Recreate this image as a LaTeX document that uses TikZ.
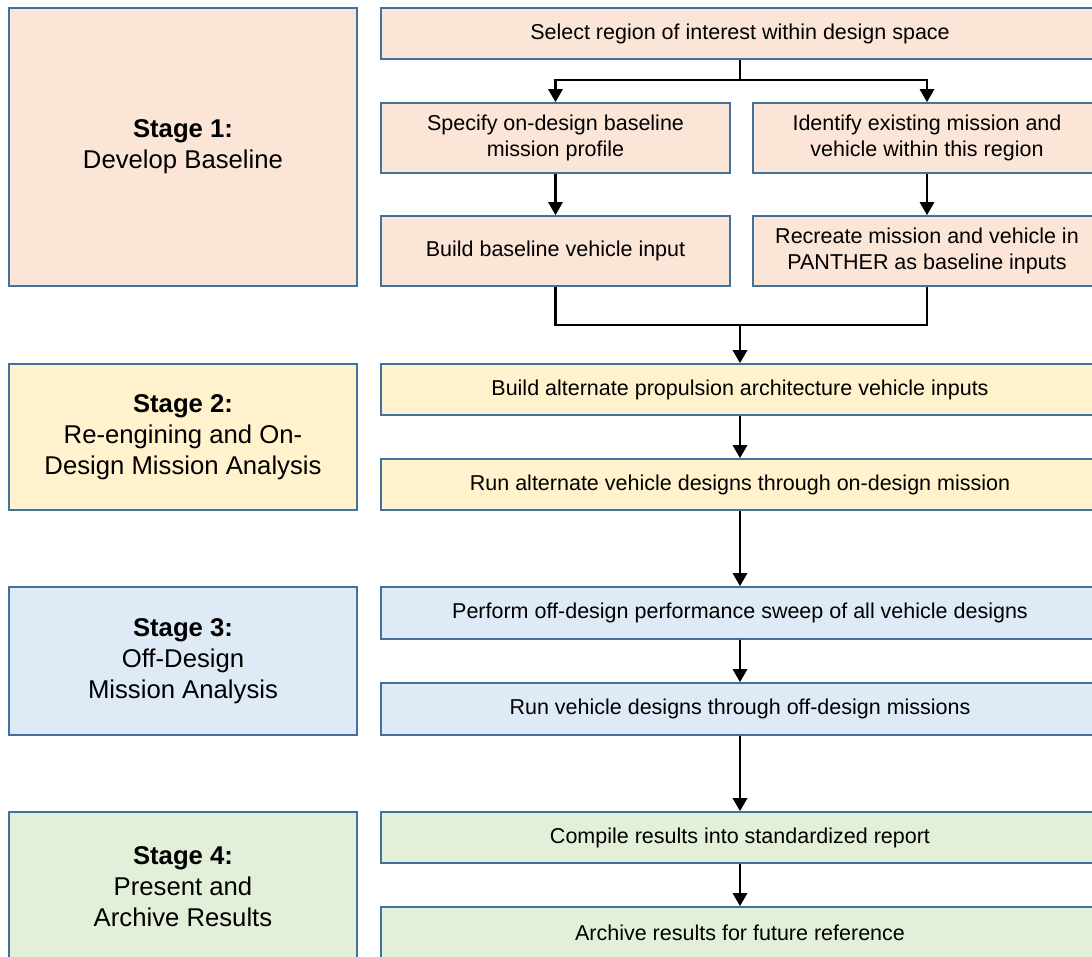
\documentclass[tikz,border=0pt]{standalone}
\usepackage{fontspec}
\setmainfont{Liberation Sans}
\usetikzlibrary{arrows.meta}
\definecolor{bordc}{HTML}{41719C}
\definecolor{peach}{HTML}{FBE5D6}
\definecolor{yell}{HTML}{FFF2CC}
\definecolor{lblue}{HTML}{DEEBF7}
\definecolor{lgreen}{HTML}{E2F0D9}
\tikzset{
  box/.style={draw=bordc, line width=1.6pt, rectangle, align=center, inner sep=0pt},
  stagebox/.style={box, minimum width=348pt, font=\fontsize{25.7}{31}\selectfont},
  stepbox/.style={box, font=\fontsize{21.5}{26}\selectfont},
  arr/.style={line width=2.8pt, -{Triangle[length=13pt,width=14pt]}},
  ln/.style={line width=2.8pt}
}
\begin{document}
\begin{tikzpicture}[x=1pt,y=-1pt]
\useasboundingbox (0,0) rectangle (1092,956);
\clip (0,0) rectangle (1092,956);
% stage boxes
\node[stagebox, fill=peach, minimum height=278pt] (s1) at (183,147) {\textbf{Stage 1:}\\Develop Baseline};
\node[stagebox, fill=yell, minimum height=146pt] (s2) at (183,437) {\textbf{Stage 2:}\\Re-engining and On-\\Design Mission Analysis};
\node[stagebox, fill=lblue, minimum height=148pt] (s3) at (183,661) {\textbf{Stage 3:}\\Off-Design\\Mission Analysis};
\node[stagebox, fill=lgreen, minimum height=150pt] (s4) at (183,887) {\textbf{Stage 4:}\\Present and\\Archive Results};
% step boxes
\node[stepbox, fill=peach, minimum width=718pt, minimum height=51pt] (sel) at (740,33.5) {Select region of interest within design space};
\node[stepbox, fill=peach, minimum width=349pt, minimum height=70pt] (spec) at (555.5,138) {Specify on-design baseline\\mission profile};
\node[stepbox, fill=peach, minimum width=348pt, minimum height=70pt] (ident) at (927,138) {Identify existing mission and\\vehicle within this region};
\node[stepbox, fill=peach, minimum width=349pt, minimum height=70pt] (build) at (555.5,251) {Build baseline vehicle input};
\node[stepbox, fill=peach, minimum width=348pt, minimum height=70pt] (recr) at (927,251) {Recreate mission and vehicle in\\PANTHER as baseline inputs};
\node[stepbox, fill=yell, minimum width=718pt, minimum height=51pt] (balt) at (740,389.5) {Build alternate propulsion architecture vehicle inputs};
\node[stepbox, fill=yell, minimum width=718pt, minimum height=51pt] (ralt) at (740,484.5) {Run alternate vehicle designs through on-design mission};
\node[stepbox, fill=lblue, minimum width=718pt, minimum height=52pt] (perf) at (740,613) {Perform off-design performance sweep of all vehicle designs};
\node[stepbox, fill=lblue, minimum width=718pt, minimum height=52pt] (rveh) at (740,709) {Run vehicle designs through off-design missions};
\node[stepbox, fill=lgreen, minimum width=718pt, minimum height=51pt] (comp) at (740,837.5) {Compile results into standardized report};
\node[stepbox, fill=lgreen, minimum width=718pt, minimum height=51pt] (arch) at (740,932.5) {Archive results for future reference};
% connectors
\coordinate (j1) at (740,80);
\coordinate (j2) at (740,325);
\draw[arr] (sel.south) -- (j1) -| (spec.north);
\draw[arr] (j1) -| (ident.north);
\draw[arr] (spec.south) -- (build.north);
\draw[arr] (ident.south) -- (recr.north);
\draw[ln] (build.south) |- (j2) -| (recr.south);
\draw[arr] (j2) -- (balt.north);
\draw[arr] (balt.south) -- (ralt.north);
\draw[arr] (ralt.south) -- (perf.north);
\draw[arr] (perf.south) -- (rveh.north);
\draw[arr] (rveh.south) -- (comp.north);
\draw[arr] (comp.south) -- (arch.north);
\end{tikzpicture}
\end{document}
